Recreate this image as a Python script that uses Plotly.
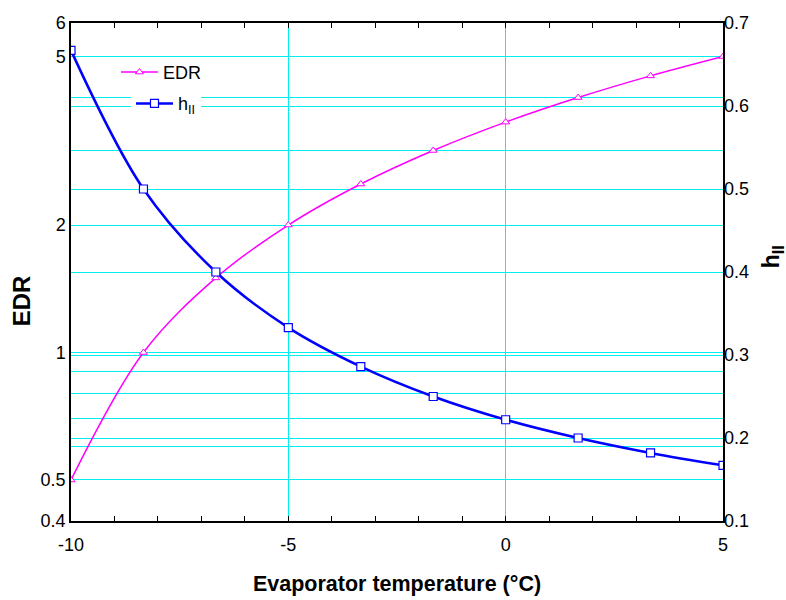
import plotly.graph_objects as go

# Data
temps = [-10, -8.333, -6.667, -5, -3.333, -1.667, 0, 1.667, 3.333, 5]
edr = [0.5, 1.0, 1.5, 2.0, 2.5, 3.0, 3.5, 4.0, 4.5, 5.0]
h_ii = [0.667, 0.5, 0.4, 0.333, 0.286, 0.25, 0.222, 0.2, 0.182, 0.167]

x_ticks = [-10, -5, 0, 5]
x_ticktext = ["-10", "-5", "0", "5"]
edr_ticks = [0.4, 0.5, 1, 2, 5, 6]
edr_ticktext = ["0.4", "0.5", "1", "2", "5", "6"]
edr_minor = [0.6, 0.7, 0.8, 0.9, 3, 4]
h_ticks = [0.1, 0.2, 0.3, 0.4, 0.5, 0.6, 0.7]

FONT = "Liberation Sans, Arial, sans-serif"
GRID = "#00F0F0"

fig = go.Figure()
fig.add_trace(go.Scatter(
    x=temps, y=edr, name="EDR", mode="lines+markers",
    line=dict(color="#FF00FF", width=1.5, shape="spline"),
    marker=dict(symbol="triangle-up", size=7, color="white",
                line=dict(color="#FF00FF", width=1)),
    yaxis="y", legend="legend",
))
fig.add_trace(go.Scatter(
    x=temps, y=h_ii, name="h<sub>II</sub>", mode="lines+markers",
    line=dict(color="#0000FF", width=2.5, shape="spline"),
    marker=dict(symbol="square", size=8, color="white",
                line=dict(color="#0000FF", width=1.2)),
    yaxis="y2", legend="legend2",
))

fig.update_layout(
    width=786, height=600,
    margin=dict(l=71, r=63, t=23, b=79, autoexpand=False),
    paper_bgcolor="white", plot_bgcolor="white",
    font=dict(family=FONT, size=18, color="black"),
    showlegend=True,
    xaxis=dict(
        range=[-10, 5], tickmode="array", tickvals=x_ticks, ticktext=x_ticktext,
        showgrid=True, gridcolor=GRID, gridwidth=1,
        zeroline=False, automargin=False,
        showline=True, linecolor="black", linewidth=1.5, mirror="allticks",
        ticks="inside", ticklen=5, tickcolor="black",
        ticklabelstandoff=7,
        minor=dict(dtick=1, ticks="inside", ticklen=5, tickcolor="black", showgrid=False),
        title=dict(text="<b>Evaporator temperature (°C)</b>", font=dict(size=21.5), standoff=22),
        tickfont=dict(size=18),
    ),
    yaxis=dict(
        type="log", range=[-0.39794, 0.778151],
        tickmode="array", tickvals=edr_ticks, ticktext=edr_ticktext,
        showgrid=True, gridcolor=GRID, gridwidth=1, zeroline=False, automargin=False,
        showline=True, linecolor="black", linewidth=1.5, mirror=True,
        ticks="",
        minor=dict(tickvals=edr_minor, showgrid=True, gridcolor=GRID, gridwidth=1, ticks=""),
        tickfont=dict(size=18),
    ),
    yaxis2=dict(
        overlaying="y", side="right", range=[0.1, 0.7],
        tickmode="array", tickvals=h_ticks,
        showgrid=True, gridcolor=GRID, gridwidth=1, zeroline=False, automargin=False,
        showline=False, ticks="",
        tickfont=dict(size=18),
    ),
    legend=dict(
        x=0.069, y=0.938, xanchor="left", yanchor="top",
        bgcolor="rgba(255,255,255,0)", borderwidth=0,
        font=dict(size=18), itemwidth=37, tracegroupgap=0,
    ),
    legend2=dict(
        x=0.092, y=0.875, xanchor="left", yanchor="top",
        bgcolor="white", borderwidth=0,
        font=dict(size=18), itemwidth=37, tracegroupgap=0,
    ),
    annotations=[
        dict(text="<b>EDR</b>", xref="paper", yref="paper", x=-0.076, y=0.442,
             xanchor="center", yanchor="middle", textangle=-90, showarrow=False,
             font=dict(size=24)),
        dict(text="<b>h<sub>II</sub></b>", xref="paper", yref="paper", x=1.0755, y=0.530,
             xanchor="center", yanchor="middle", textangle=-90, showarrow=False,
             font=dict(size=23)),
    ],
)

fig.write_html("out.html", config={"displayModeBar": False},
               post_script="document.body.style.margin='0px';")
